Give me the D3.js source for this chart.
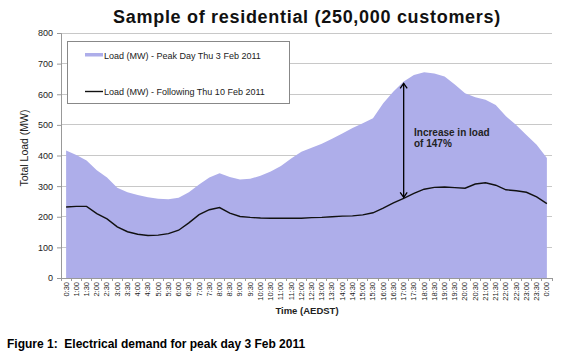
<!DOCTYPE html>
<html><head><meta charset="utf-8">
<script src="https://cdn.jsdelivr.net/npm/d3@7"></script>
<style>body{margin:0;background:#fff}svg{display:block;font-family:"Liberation Sans",Arial,sans-serif}</style>
</head><body><svg id="c" width="566" height="360"></svg>
<script>
const times = ["0:30","1:00","1:30","2:00","2:30","3:00","3:30","4:00","4:30","5:00","5:30","6:00","6:30","7:00","7:30","8:00","8:30","9:00","9:30","10:00","10:30","11:00","11:30","12:00","12:30","13:00","13:30","14:00","14:30","15:00","15:30","16:00","16:30","17:00","17:30","18:00","18:30","19:00","19:30","20:00","20:30","21:00","21:30","22:00","22:30","23:00","23:30","0:00"];
const peakDay = [416,402,384,352,328,295,280,271,264,259,257,262,280,305,328,342,330,322,324,334,348,366,390,412,425,438,455,472,490,505,522,571,609,642,663,672,668,658,632,603,590,582,565,528,500,467,435,392];
const followingDay = [232,234,234,210,193,167,151,143,139,140,145,156,180,207,223,230,212,201,198,196,195,195,195,195,197,198,200,202,203,206,213,228,245,260,276,290,296,297,295,293,307,311,303,288,285,280,265,243];
const yTicks = [0,100,200,300,400,500,600,700,800];
const seriesNames = ["Load (MW) - Peak Day Thu 3 Feb 2011","Load (MW) - Following Thu 10 Feb 2011"];
const arrowAt = "17:00";

const svg = d3.select("#c");
const L = 61, R = 552, T = 33, B = 278;
const x = d3.scaleBand().domain(times).range([L, R]);
const y = d3.scaleLinear().domain([0, 800]).range([B, T]);
const cx = d => x(d) + x.bandwidth() / 2;

// title
svg.append("text").attr("x", 307).attr("y", 23).attr("text-anchor", "middle")
  .style("font-weight", "bold").style("font-size", "18px").style("letter-spacing", "0.7px")
  .attr("fill", "#111").text("Sample of residential (250,000 customers)");

// gridlines
svg.append("g").selectAll("line").data(yTicks.filter(d => d > 0)).join("line")
  .attr("x1", L).attr("x2", R).attr("y1", d => y(d)).attr("y2", d => y(d))
  .attr("stroke", "#c8c8c8").attr("stroke-width", 1).attr("shape-rendering", "crispEdges");

// area
svg.append("path").datum(times.map((t, i) => [t, peakDay[i]]))
  .attr("fill", "#aeaeea")
  .attr("d", d3.area().x(d => cx(d[0])).y0(y(0)).y1(d => y(d[1])));

// line
svg.append("path").datum(times.map((t, i) => [t, followingDay[i]]))
  .attr("fill", "none").attr("stroke", "#111").attr("stroke-width", 1.4)
  .attr("d", d3.line().x(d => cx(d[0])).y(d => y(d[1])));

// y axis
const ya = svg.append("g").attr("transform", `translate(${L},0)`)
  .call(d3.axisLeft(y).tickValues(yTicks).tickSize(4).tickPadding(4));
ya.select(".domain").attr("stroke", "#999");
ya.selectAll(".tick line").attr("stroke", "#999");
ya.selectAll("text").style("font-size", "9px").attr("fill", "#222");

// x axis
const xa = svg.append("g").attr("transform", `translate(0,${B})`)
  .call(d3.axisBottom(x).tickSize(0).tickPadding(0));
xa.select(".domain").attr("stroke", "#999");
xa.selectAll(".tick text").style("font-size", "7.5px").attr("fill", "#222")
  .attr("text-anchor", "end").attr("transform", "rotate(-90)")
  .attr("x", -4).attr("y", 0).attr("dy", "0.32em");
svg.append("g").selectAll("line").data(times.concat(["end"])).join("line")
  .attr("x1", (d, i) => L + i * x.bandwidth()).attr("x2", (d, i) => L + i * x.bandwidth())
  .attr("y1", B).attr("y2", B + 3).attr("stroke", "#999").attr("shape-rendering", "crispEdges");

// axis titles
svg.append("text").attr("transform", "translate(28,148) rotate(-90)").attr("text-anchor", "middle")
  .style("font-size", "10.5px").attr("fill", "#222").text("Total Load (MW)");
svg.append("text").attr("x", 307).attr("y", 314).attr("text-anchor", "middle")
  .style("font-size", "9.5px").style("font-weight", "bold").attr("fill", "#222").text("Time (AEDST)");

// legend
const lg = svg.append("g");
lg.append("rect").attr("x", 67.5).attr("y", 41.5).attr("width", 222).attr("height", 62)
  .attr("fill", "#fff").attr("stroke", "#888");
lg.append("rect").attr("x", 85).attr("y", 53).attr("width", 18).attr("height", 3.5).attr("fill", "#aeaeea");
lg.append("line").attr("x1", 85).attr("x2", 103).attr("y1", 91.5).attr("y2", 91.5).attr("stroke", "#111").attr("stroke-width", 1.4);
lg.selectAll("text.l").data(seriesNames).join("text").attr("class", "l")
  .attr("x", 104).attr("y", (d, i) => i ? 95 : 58.5).style("font-size", "9px").attr("fill", "#222").text(d => d);

// annotation arrow
const ai = times.indexOf(arrowAt);
const ax = cx(arrowAt);
const yTop = y(peakDay[ai]) + 2, yBot = y(followingDay[ai]) - 1;
svg.append("line").attr("x1", ax).attr("x2", ax).attr("y1", yTop).attr("y2", yBot).attr("stroke", "#000").attr("stroke-width", 1.3);
svg.append("path").attr("d", `M${ax-3.5},${yTop+5}L${ax},${yTop}L${ax+3.5},${yTop+5}`).attr("fill", "none").attr("stroke", "#000").attr("stroke-width", 1.3);
svg.append("path").attr("d", `M${ax-3.5},${yBot-5}L${ax},${yBot}L${ax+3.5},${yBot-5}`).attr("fill", "none").attr("stroke", "#000").attr("stroke-width", 1.3);
svg.append("text").attr("x", 414).attr("y", 136).style("font-size", "10px").style("font-weight", "bold").attr("fill", "#222").text("Increase in load");
svg.append("text").attr("x", 414).attr("y", 147).style("font-size", "10px").style("font-weight", "bold").attr("fill", "#222").text("of 147%");

// caption
svg.append("text").attr("x", 7).attr("y", 348).style("font-size", "12px").style("font-weight", "bold").attr("fill", "#000")
  .style("white-space", "pre").text("Figure 1:  Electrical demand for peak day 3 Feb 2011");
</script></body></html>
